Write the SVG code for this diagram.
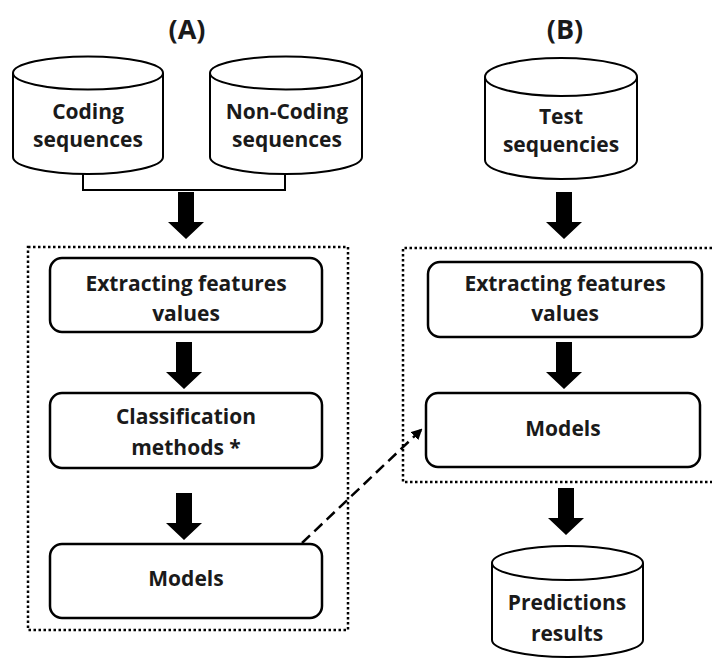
<svg xmlns="http://www.w3.org/2000/svg" xmlns:xlink="http://www.w3.org/1999/xlink" width="713" height="658" viewBox="0 0 713 658">
<style>
.t{font-family:"Open Sans","Noto Sans","DejaVu Sans",sans-serif;font-weight:700;font-size:21px;fill:#1a1a1a;text-anchor:middle;dominant-baseline:central}
.h{font-size:27px}
.cyl{fill:#fff;stroke:#000;stroke-width:2}
.box{fill:#fff;stroke:#000;stroke-width:2.5}
.dot{fill:none;stroke:#000;stroke-width:2.5;stroke-dasharray:2.5 2.5}
.ln{fill:none;stroke:#000;stroke-width:2}
</style>
<defs>
<path id="blk" d="M-8,0 H8 V30 H18 L0,47 L-18,30 H-8 Z" fill="#000"/>
<marker id="ah" markerWidth="11" markerHeight="11" refX="9" refY="5.5" orient="auto" markerUnits="userSpaceOnUse">
<path d="M0,0 L11,5.5 L0,11 Z" fill="#000"/>
</marker>
</defs>
<rect width="713" height="658" fill="#fff"/>
<text class="t h" x="187" y="28">(A)</text>
<text class="t h" x="565" y="28">(B)</text>
<g id="containerA"><rect class="dot" x="28" y="247" width="320" height="383"/></g>
<g id="containerB"><path class="dot" d="M712,248 H403 V482 H712"/></g>
<g id="coding">
<path class="cyl" d="M13,73 A75,16.5 0 0 1 163,73 L163,157 A75,17 0 0 1 13,157 Z"/>
<path class="ln" d="M13,73 A75,16.5 0 0 0 163,73"/>
<text class="t" x="88" y="111">Coding</text>
<text class="t" x="88" y="139">sequences</text>
</g>
<g id="noncoding">
<path class="cyl" d="M210,73 A76,16.5 0 0 1 362,73 L362,157 A76,17 0 0 1 210,157 Z"/>
<path class="ln" d="M210,73 A76,16.5 0 0 0 362,73"/>
<text class="t" x="287" y="111">Non-Coding</text>
<text class="t" x="287" y="139">sequences</text>
</g>
<g id="test">
<path class="cyl" d="M485,77 A76,19 0 0 1 637,77 L637,160 A76,19 0 0 1 485,160 Z"/>
<path class="ln" d="M485,77 A76,19 0 0 0 637,77"/>
<text class="t" x="561" y="116">Test</text>
<text class="t" x="561" y="144">sequencies</text>
</g>
<g id="extractA"><rect class="box" x="50" y="258" width="272" height="74" rx="12"/>
<text class="t" x="186" y="283">Extracting features</text>
<text class="t" x="186" y="313">values</text></g>
<g id="classA"><rect class="box" x="50" y="393" width="272" height="75" rx="12"/>
<text class="t" x="186" y="416">Classification</text>
<text class="t" x="186" y="447">methods *</text></g>
<g id="modelsA"><rect class="box" x="50" y="544" width="272" height="74" rx="12"/>
<text class="t" x="186" y="578">Models</text></g>
<g id="extractB"><rect class="box" x="428" y="262" width="274" height="75" rx="12"/>
<text class="t" x="565" y="283">Extracting features</text>
<text class="t" x="565" y="313">values</text></g>
<g id="modelsB"><rect class="box" x="426" y="393" width="274" height="74" rx="12"/>
<text class="t" x="563" y="428">Models</text></g>
<g id="predictions">
<path class="cyl" d="M492,563 A75.5,17 0 0 1 643,563 L643,640 A75.5,17 0 0 1 492,640 Z"/>
<path class="ln" d="M492,563 A75.5,17 0 0 0 643,563"/>
<text class="t" x="567" y="602">Predictions</text>
<text class="t" x="567" y="633">results</text>
</g>
<g id="connectors">
<path class="ln" d="M83,174 V190 H285 V173"/>
<use xlink:href="#blk" x="186" y="192"/>
<use xlink:href="#blk" x="184" y="342"/>
<use xlink:href="#blk" x="184" y="493"/>
<use xlink:href="#blk" x="564" y="192"/>
<use xlink:href="#blk" x="564" y="342"/>
<use xlink:href="#blk" x="566" y="488"/>
<path d="M302,543 L421,430" fill="none" stroke="#000" stroke-width="2.5" stroke-dasharray="11 6" marker-end="url(#ah)"/>
</g>
</svg>
